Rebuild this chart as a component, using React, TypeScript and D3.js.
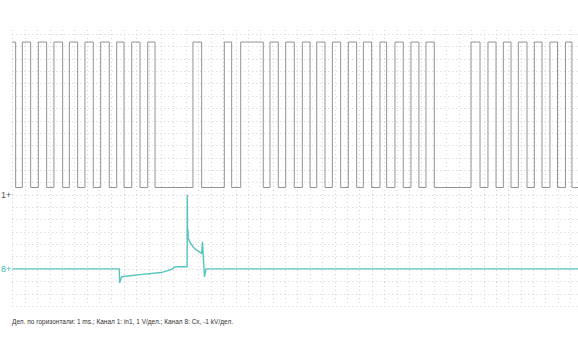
import React from "react";
import * as d3 from "d3";

// Channel 1: square wave, edge times in ms (starts high), levels in V
const ch1Edges = [
  0.27, 0.81, 1.48, 2.1, 2.77, 3.36, 4.06, 4.6, 5.27, 5.86, 6.53, 7.13, 7.82, 8.42,
  9.01, 9.63, 10.3, 10.92, 11.51, 14.57, 15.27, 17.1, 17.69, 18.42, 20.24, 20.78,
  21.45, 22.05, 22.74, 23.39, 24.01, 24.55, 25.22, 25.81, 26.48, 27.1, 27.77, 28.31,
  28.98, 29.65, 30.19, 30.86, 31.53, 32.15, 32.79, 33.36, 34.03, 36.99, 37.72, 38.36,
  39.01, 39.6, 40.22, 40.81, 41.51, 42.1, 42.72, 43.36, 43.97, 44.61, 45.13,
];
const ch1High = 12.35;
const ch1Low = 0.58;
const ch1End = 45.7;

// Channel 8: [time ms, kV]
const ch8Points: [number, number][] = [
  [0, 0.0], [8.63, 0.0], [8.65, 1.15], [8.72, 0.9], [8.82, 0.64], [10.5, 0.45],
  [12.0, 0.3], [12.85, 0.05], [13.05, -0.12], [13.25, -0.17], [14.1, -0.17],
  [14.11, -5.97], [14.13, -3.2], [14.17, -3.14], [14.19, -2.47], [14.35, -2.1],
  [14.6, -1.75], [14.85, -1.52], [15.1, -1.35], [15.27, -1.25], [15.34, -2.19],
  [15.42, -0.71], [15.5, 0.64], [15.62, 0.0], [45.7, 0.0],
];

const gridCols = d3.range(0, 47);
const gridRows = d3.range(0, 23);
const footer = "Дел. по горизонтали: 1 ms.; Канал 1: in1, 1 V/дел.; Канал 8: Cx, -1 kV/дел.";

export default function App() {
  const W = 578, H = 350;
  const cell = 12.36;
  const top = 34;
  const x = d3.scaleLinear().domain([0, 45]).range([12.3, 570.3]);
  const yGrid = (r: number) => top + r * cell;
  const zero1 = yGrid(13);
  const zero8 = yGrid(19);
  const y1 = d3.scaleLinear().domain([0, 1]).range([zero1, zero1 - cell]);
  const y8 = d3.scaleLinear().domain([0, -1]).range([zero8, zero8 - cell]);

  const pts1: [number, number][] = [];
  let level = ch1High;
  pts1.push([0, level]);
  ch1Edges.forEach((t) => {
    pts1.push([t, level]);
    level = level === ch1High ? ch1Low : ch1High;
    pts1.push([t, level]);
  });
  pts1.push([ch1End, level]);

  const line1 = d3.line<[number, number]>().x((d) => x(d[0])).y((d) => y1(d[1]));
  const line8 = d3.line<[number, number]>().x((d) => x(d[0])).y((d) => y8(d[1]));

  return (
    <svg width={W} height={H} style={{ position: "absolute", left: 0, top: 0, background: "#fff" }}
      fontFamily="Arial, 'Liberation Sans', sans-serif">
      <g stroke="#d2d2d2" strokeWidth={1} strokeDasharray="1,3">
        {gridCols.map((i) => (
          <line key={"v" + i} x1={Math.round(x(i)) + 0.5} x2={Math.round(x(i)) + 0.5} y1={30} y2={yGrid(22)} />
        ))}
        {gridRows.map((r) => (
          <line key={"h" + r} x1={x(0)} x2={W} y1={Math.round(yGrid(r)) + 0.5} y2={Math.round(yGrid(r)) + 0.5} />
        ))}
      </g>
      <path d={line1(pts1) || ""} fill="none" stroke="#939393" strokeWidth={1} />
      <path d={line8(ch8Points) || ""} fill="none" stroke="#55c6bd" strokeWidth={1.4} />
      <text x={1} y={zero1 + 3} fontSize={9} fill="#555">1+</text>
      <text x={1} y={zero8 + 3} fontSize={9} fill="#3fbab0">8+</text>
      <text x={12} y={324} fontSize={7} fill="#333" textLength={221} lengthAdjust="spacingAndGlyphs">{footer}</text>
    </svg>
  );
}
